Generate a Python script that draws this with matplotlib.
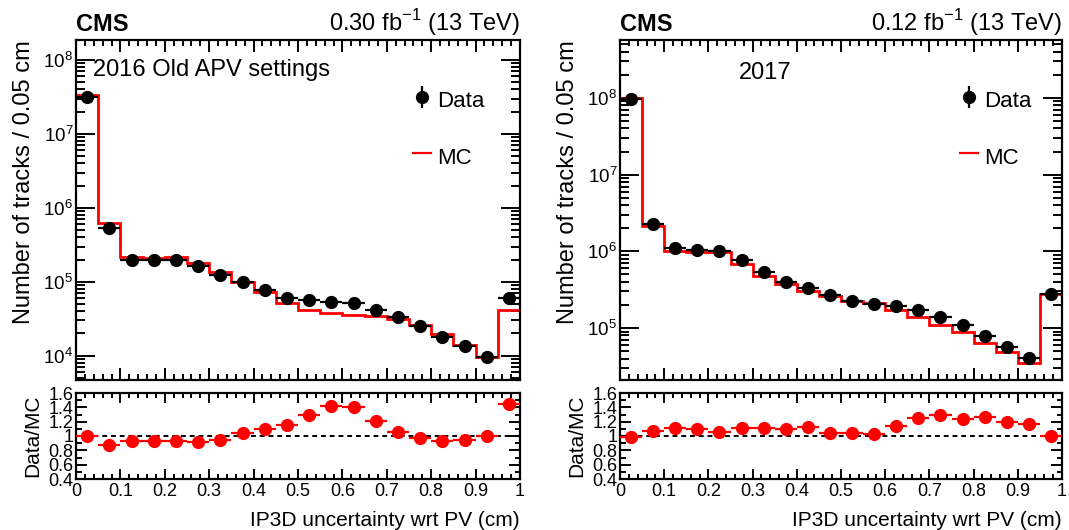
import matplotlib
matplotlib.use("Agg")
import matplotlib.pyplot as plt
from matplotlib.lines import Line2D
from matplotlib.ticker import MultipleLocator, LogLocator, FuncFormatter
import numpy as np

plt.rcParams['font.family'] = ['Liberation Sans', 'DejaVu Sans']
plt.rcParams['mathtext.fontset'] = 'custom'
plt.rcParams['mathtext.rm'] = 'Liberation Sans'

# Bins: 20 bins of 0.05 cm from 0 to 1
edges = np.linspace(0, 1, 21)
centers = 0.5 * (edges[1:] + edges[:-1])

# 2016 Old APV settings
data_2016 = [3.2e7, 5.4e5, 2.0e5, 1.95e5, 2.0e5, 1.64e5, 1.24e5, 1.0e5, 7.8e4, 6.1e4,
             5.6e4, 5.4e4, 5.1e4, 4.2e4, 3.3e4, 2.5e4, 1.8e4, 1.36e4, 0.96e4, 6.1e4]
mc_2016 = [3.4e7, 6.3e5, 2.17e5, 2.1e5, 2.15e5, 1.8e5, 1.36e5, 1.0e5, 7.3e4, 5.2e4,
           4.2e4, 3.8e4, 3.6e4, 3.5e4, 3.1e4, 2.6e4, 1.97e4, 1.4e4, 0.97e4, 4.1e4]
ratio_2016 = [1.0, 0.88, 0.93, 0.925, 0.935, 0.915, 0.945, 1.045, 1.095, 1.155,
              1.30, 1.42, 1.41, 1.215, 1.055, 0.97, 0.925, 0.95, 1.005, 1.44]

# 2017
data_2017 = [0.97e8, 2.3e6, 1.1e6, 1.05e6, 1.02e6, 7.7e5, 5.3e5, 4.0e5, 3.3e5, 2.66e5,
             2.27e5, 2.06e5, 1.96e5, 1.72e5, 1.41e5, 1.08e5, 7.9e4, 5.7e4, 4.1e4, 2.75e5]
mc_2017 = [1.0e8, 2.16e6, 1.0e6, 0.98e6, 0.98e6, 6.9e5, 4.76e5, 3.72e5, 3.0e5, 2.58e5,
           2.23e5, 2.1e5, 1.72e5, 1.41e5, 1.11e5, 8.9e4, 6.3e4, 4.8e4, 3.5e4, 2.75e5]
ratio_2017 = [0.99, 1.075, 1.11, 1.10, 1.06, 1.11, 1.11, 1.10, 1.12, 1.035,
              1.035, 1.026, 1.14, 1.245, 1.29, 1.24, 1.265, 1.19, 1.165, 0.995]

W, H = 1069, 530
fig = plt.figure(figsize=(W / 100, H / 100), dpi=100)


def px_axes(x0, x1, ytop, ybot):
    return fig.add_axes([x0 / W, (H - ybot) / H, (x1 - x0) / W, (ybot - ytop) / H])


def style_axes(ax, ymajor, yminor, xmajor=12, xminor=6, lsize=13.5):
    for s in ax.spines.values():
        s.set_linewidth(1.6)
    ax.tick_params(which='both', direction='in', top=True, right=True, width=1.4,
                   labelsize=lsize, pad=3)
    ax.tick_params(axis='x', which='major', length=xmajor * 0.72)
    ax.tick_params(axis='x', which='minor', length=xminor * 0.72)
    ax.tick_params(axis='y', which='major', length=ymajor * 0.72, pad=2)
    ax.tick_params(axis='y', which='minor', length=yminor * 0.72)
    ax.set_xlim(0, 1)
    ax.xaxis.set_major_locator(MultipleLocator(0.1))
    ax.xaxis.set_minor_locator(MultipleLocator(0.02))


def make_panel(x0, x1, data, mc, ratio, ylim, lumi, label, label_pos, leg_x):
    ax = px_axes(x0, x1, 40, 380)
    rax = px_axes(x0, x1, 393, 479)

    ax.stairs(mc, edges, baseline=None, color='red', lw=2, zorder=2)
    ax.errorbar(centers, data, xerr=0.025, fmt='o', color='black', ms=8.5,
                elinewidth=1.6, capsize=0, zorder=3)
    ax.set_yscale('log')
    ax.set_ylim(*ylim)
    style_axes(ax, 19, 9)
    ax.yaxis.set_major_locator(LogLocator(base=10, numticks=20))
    ax.yaxis.set_minor_locator(LogLocator(base=10, subs=np.arange(2, 10), numticks=20))
    ax.tick_params(axis='x', labelbottom=False)
    ax.set_ylabel('Number of tracks / 0.05 cm', fontsize=17, loc='top', labelpad=6)

    ax.text(0, 1.026, 'CMS', transform=ax.transAxes, fontsize=17, weight='bold',
            ha='left', va='baseline')
    ax.text(1, 1.026, lumi + r' fb$^{-1}$ (13 TeV)', transform=ax.transAxes,
            fontsize=17, ha='right', va='baseline')
    ax.text(label_pos[0], label_pos[1], label, transform=ax.transAxes, fontsize=17,
            ha='left', va='center')

    hdata = ax.errorbar([], [], yerr=[], fmt='o', color='black', ms=8.5,
                        elinewidth=1.6, capsize=0)
    hmc = Line2D([], [], color='red', lw=1.6)
    ax.legend([hdata, hmc], ['Data', 'MC'], loc='upper left',
              bbox_to_anchor=(leg_x, 0.865), frameon=False, fontsize=16,
              handlelength=0.8, handletextpad=0.3, labelspacing=1.25,
              borderpad=0, borderaxespad=0, handleheight=1.6)

    rax.axhline(1, color='black', ls=(0, (2.5, 2)), lw=1.4, zorder=1)
    rax.errorbar(centers, ratio, xerr=0.025, fmt='o', color='red', ms=8.5,
                 elinewidth=1.6, capsize=0, zorder=3)
    rax.set_ylim(0.4, 1.6)
    style_axes(rax, 11, 5.5, 10, 5, lsize=13)
    rax.yaxis.set_major_locator(MultipleLocator(0.2))
    rax.yaxis.set_minor_locator(MultipleLocator(0.1))
    rax.yaxis.set_major_formatter(FuncFormatter(lambda v, p: '%g' % round(v, 2)))
    rax.xaxis.set_major_formatter(FuncFormatter(lambda v, p: '%g' % round(v, 2)))
    rax.set_ylabel('Data/MC', fontsize=15, labelpad=4)
    rax.set_xlabel('IP3D uncertainty wrt PV (cm)', fontsize=15, loc='right', labelpad=8)
    return ax, rax


make_panel(76, 520, data_2016, mc_2016, ratio_2016, (4.7e3, 1.86e8), '0.30',
           '2016 Old APV settings', (0.038, 0.912), 0.759)
make_panel(620, 1062, data_2017, mc_2017, ratio_2017, (2.1e4, 5.7e8), '0.12',
           '2017', (0.269, 0.903), 0.769)

fig.savefig('out.png', dpi=100)
